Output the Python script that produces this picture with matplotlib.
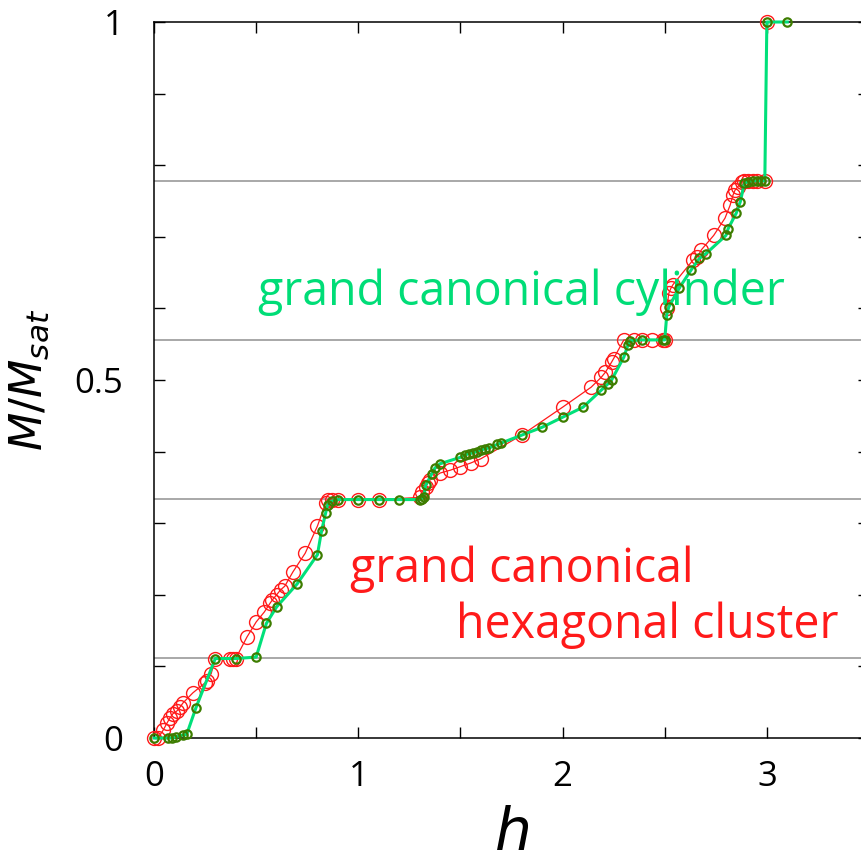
import numpy as np
import matplotlib
matplotlib.use('Agg')
import matplotlib.pyplot as plt
from matplotlib.ticker import MultipleLocator

# magnetisation curves M/Msat vs h
hex_h = [0.0, 0.02, 0.045, 0.064, 0.078, 0.093, 0.113, 0.127, 0.142, 0.19, 0.25, 0.26, 0.28,
         0.30, 0.37, 0.385, 0.40, 0.455, 0.50, 0.54, 0.57, 0.58, 0.60, 0.62, 0.64, 0.68, 0.74,
         0.80, 0.84, 0.85, 0.87, 0.90, 1.0, 1.1, 1.30, 1.31, 1.33, 1.34, 1.35, 1.40, 1.45, 1.50,
         1.55, 1.60, 1.80, 2.0, 2.14, 2.19, 2.21, 2.24, 2.25, 2.30, 2.35, 2.39, 2.44, 2.49, 2.50,
         2.51, 2.52, 2.53, 2.54, 2.64, 2.66, 2.68, 2.74, 2.795, 2.82, 2.834, 2.844, 2.858, 2.877,
         2.89, 2.91, 2.93, 2.95, 2.99, 3.0]
hex_m = [0.0, 0.0, 0.011, 0.021, 0.028, 0.034, 0.038, 0.043, 0.049, 0.063, 0.077, 0.080, 0.090,
         0.111, 0.111, 0.111, 0.111, 0.141, 0.162, 0.176, 0.189, 0.193, 0.200, 0.207, 0.212, 0.232, 0.258,
         0.296, 0.328, 0.333, 0.333, 0.333, 0.333, 0.333, 0.336, 0.343, 0.350, 0.356, 0.360, 0.370, 0.374, 0.379,
         0.384, 0.390, 0.423, 0.462, 0.490, 0.504, 0.511, 0.525, 0.530, 0.556, 0.556, 0.556, 0.556, 0.556, 0.556,
         0.600, 0.621, 0.628, 0.633, 0.668, 0.672, 0.682, 0.702, 0.726, 0.744, 0.758, 0.765, 0.770, 0.777,
         0.778, 0.778, 0.778, 0.778, 0.778, 1.0]

cyl_h = [0.0, 0.07, 0.09, 0.11, 0.14, 0.16, 0.205, 0.30, 0.40, 0.50, 0.55, 0.60, 0.70, 0.80, 0.82,
         0.84, 0.85, 0.87, 0.90, 1.0, 1.1, 1.2, 1.30, 1.31, 1.32, 1.33, 1.36, 1.375, 1.40, 1.50, 1.52,
         1.54, 1.56, 1.58, 1.60, 1.62, 1.64, 1.68, 1.70, 1.80, 1.90, 2.0, 2.10, 2.19, 2.22, 2.24, 2.30,
         2.32, 2.33, 2.39, 2.49, 2.50, 2.51, 2.52, 2.57, 2.63, 2.67, 2.70, 2.80, 2.81, 2.85, 2.87, 2.89,
         2.91, 2.93, 2.95, 2.97, 2.99, 3.0, 3.1]
cyl_m = [0.0, 0.0, 0.0, 0.002, 0.004, 0.005, 0.042, 0.111, 0.111, 0.113, 0.160, 0.183, 0.215, 0.256, 0.289,
         0.314, 0.326, 0.331, 0.333, 0.333, 0.333, 0.333, 0.333, 0.334, 0.336, 0.353, 0.369, 0.377, 0.383, 0.392, 0.395,
         0.397, 0.398, 0.400, 0.402, 0.404, 0.405, 0.410, 0.412, 0.423, 0.434, 0.448, 0.462, 0.486, 0.494, 0.500, 0.532,
         0.549, 0.555, 0.556, 0.556, 0.556, 0.591, 0.602, 0.628, 0.654, 0.670, 0.676, 0.702, 0.711, 0.733, 0.749, 0.775,
         0.777, 0.778, 0.778, 0.778, 0.778, 1.0, 1.0]

plateaus = [1/9, 1/3, 5/9, 7/9]

RED = '#ff1a1a'
LINE_GREEN = '#00e07a'
EDGE_GREEN = '#3d7d00'
TEXT_GREEN = '#00dd77'

plt.rcParams['font.family'] = ['Open Sans', 'DejaVu Sans']

fig = plt.figure(figsize=(8.62, 8.52), dpi=100)
ax = fig.add_axes([154/862, 114/852, 715/862, 716/852])

for p in plateaus:
    ax.axhline(p, color='#999999', lw=1.2, zorder=1)

ax.plot(hex_h, hex_m, '-', color=RED, lw=0.9, marker='o', ms=10, mfc='none',
        mec=RED, mew=1.0, clip_on=False, zorder=3)
ax.plot(cyl_h, cyl_m, '-', color=LINE_GREEN, lw=2.2, marker='o', ms=6, mfc='none',
        mec=EDGE_GREEN, mew=1.6, clip_on=False, zorder=4)

ax.text(0.51, 0.605, 'grand canonical cylinder', color=TEXT_GREEN, fontsize=33.5)
ax.text(0.96, 0.218, 'grand canonical', color=RED, fontsize=33.5)
ax.text(1.48, 0.14, 'hexagonal cluster', color=RED, fontsize=33.5)

ax.set_xlim(0, 3.5)
ax.set_ylim(0, 1)
ax.xaxis.set_minor_locator(MultipleLocator(0.5))
ax.yaxis.set_minor_locator(MultipleLocator(0.1))
ax.set_yticks([0, 0.5, 1])
ax.set_yticklabels(['0', '0.5', '1'])
ax.set_xticks([0, 1, 2, 3])
ax.set_xticklabels(['0', '1', '2', '3'])

ax.tick_params(which='both', direction='in', top=True, right=True, length=8, width=1.0,
               labelsize=25)
ax.tick_params(axis='y', pad=22)
ax.tick_params(axis='x', pad=16)
for s in ax.spines.values():
    s.set_linewidth(1.1)

ax.set_xlabel('$h$', fontsize=42, labelpad=8)
ax.set_ylabel(r'$M/M_{sat}$', fontsize=32, labelpad=16)

fig.savefig('out.png', dpi=100)
